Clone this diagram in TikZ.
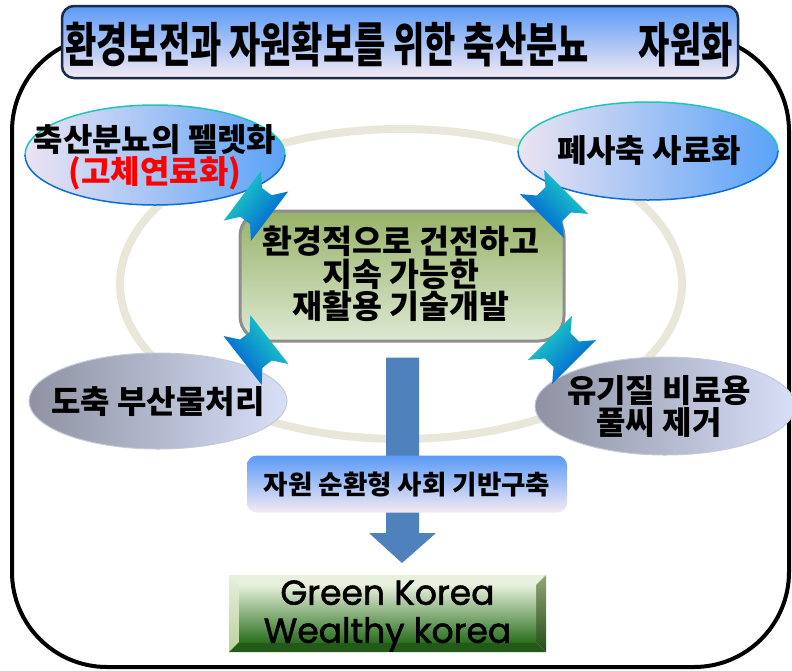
\documentclass[tikz,border=0pt]{standalone}
\usepackage{fontspec}
\usepackage{graphicx}
\usetikzlibrary{shapes.geometric,calc}
\newfontfamily\kr{Noto Sans CJK KR}
\newfontfamily\gk{Poppins}[FakeBold=1.6]
\definecolor{ringc}{HTML}{E9E6DA}
\definecolor{titleb}{HTML}{1C2B48}
\definecolor{skytop}{HTML}{5A9AF6}
\definecolor{skybot}{HTML}{F4EAF4}
\definecolor{elll}{HTML}{ECE4F2}
\definecolor{ellr}{HTML}{5AA2F8}
\definecolor{ellteal}{HTML}{1CC8B4}
\definecolor{ellblue}{HTML}{0B6ED4}
\definecolor{devtop}{HTML}{98B268}
\definecolor{devbot}{HTML}{DDE9D2}
\definecolor{devb}{HTML}{8E8E8E}
\definecolor{arcyan}{HTML}{1ED8C4}
\definecolor{armid}{HTML}{20B4E2}
\definecolor{arblue}{HTML}{0055D5}
\definecolor{barc}{HTML}{4F81BD}
\definecolor{grayl}{HTML}{8E92A2}
\definecolor{graym}{HTML}{C4CBE8}
\definecolor{grayr}{HTML}{D8DFF8}
\definecolor{grayb}{HTML}{C4CAD8}
\definecolor{gtop}{HTML}{E6F0DC}
\definecolor{gmid}{HTML}{A2BC72}
\definecolor{gbot}{HTML}{2C7020}
% double block arrow: centre name, axis angle (y down), shading angle
\newcommand{\spoolarrow}[3]{%
  \shade[top color=arcyan, middle color=armid, bottom color=arblue, shading angle=#3]
    ($(#1)+(#2:-17)+({#2+90}:31)$) -- ($(#1)+(#2:-6)+({#2+90}:18)$) --
    ($(#1)+(#2:6)+({#2+90}:18)$) -- ($(#1)+(#2:17)+({#2+90}:31)$) --
    ($(#1)+(#2:17)+({#2+90}:-31)$) -- ($(#1)+(#2:6)+({#2+90}:-18)$) --
    ($(#1)+(#2:-6)+({#2+90}:-18)$) -- ($(#1)+(#2:-17)+({#2+90}:-31)$) -- cycle;}
\begin{document}
\begin{tikzpicture}[x=1pt,y=-1pt,
  krb/.style={font=\kr\bfseries\fontsize{32}{32}\selectfont, align=center, inner sep=0pt},
  blueell/.style={ellipse, inner sep=0pt, left color=elll, right color=ellr},
  grayell/.style={ellipse, inner sep=0pt, left color=grayl, middle color=graym, right color=grayr, draw=grayb, line width=1pt},
  skybox/.style={top color=skytop, bottom color=skybot, inner sep=0pt}
]
\useasboundingbox (0,0) rectangle (792,670);

% outer frame
\draw[line width=4pt, rounded corners=95pt] (12,36) rectangle (789,667);

% ring
\draw[ringc, line width=8pt] (401,284) ellipse [x radius=281, y radius=155];

% top-left ellipse
\node[blueell, minimum width=260pt, minimum height=100pt] (pellet) at (155,155) {};
\begin{scope}\clip (0,0) rectangle (792,155);
\draw[ellteal, line width=1.5pt] (pellet.center) ellipse [x radius=130, y radius=50];
\end{scope}
\begin{scope}\clip (0,155) rectangle (792,670);
\draw[ellblue, line width=1.5pt] (pellet.center) ellipse [x radius=130, y radius=50];
\end{scope}
\node[krb] (pellettext) at (155,157) {축산분뇨의 펠렛화\\\textcolor{red}{(고체연료화)}};

% top-right ellipse
\node[blueell, minimum width=260pt, minimum height=98pt] (feed) at (648,151) {};
\begin{scope}\clip (0,0) rectangle (792,151);
\draw[ellteal, line width=1.5pt] (feed.center) ellipse [x radius=130, y radius=49];
\end{scope}
\begin{scope}\clip (0,151) rectangle (792,670);
\draw[ellblue, line width=1.5pt] (feed.center) ellipse [x radius=130, y radius=49];
\end{scope}
\node[krb] (feedtext) at (649,151) {폐사축 사료화};

% bottom ellipses
\node[grayell, minimum width=258pt, minimum height=96pt] (slaughter) at (158,401) {};
\node[krb] (slaughtertext) at (158,402) {도축 부산물처리};
\node[grayell, minimum width=260pt, minimum height=98pt] (organic) at (665,406) {};
\node[krb] (organictext) at (659,406) {유기질 비료용\\풀씨 제거};

% center box
\node[rounded corners=25pt, minimum width=324pt, minimum height=130pt, draw=devb, line width=3pt, top color=devtop, bottom color=devbot] (dev) at (402,276) {};
\node[krb, font=\kr\bfseries\fontsize{32.5}{32.5}\selectfont] (devtext) at (401,274) {환경적으로 건전하고\\지속 가능한\\재활용 기술개발};

% double arrows between the ellipses and the centre box
\coordinate (aTL) at (256,206);
\coordinate (aTR) at (554,204);
\coordinate (aBL) at (256,350);
\coordinate (aBR) at (562,350);
\spoolarrow{aTL}{37}{53}
\spoolarrow{aTR}{135}{-45}
\spoolarrow{aBL}{142}{-52}
\spoolarrow{aBR}{45}{45}

% green box
\coordinate (g1) at (229,575);
\coordinate (g2) at (546,575);
\coordinate (g3) at (546,652);
\coordinate (g4) at (229,652);
\coordinate (h1) at (239,585);
\coordinate (h2) at (536,585);
\coordinate (h3) at (536,642);
\coordinate (h4) at (239,642);
\fill[gtop] (g1) -- (g2) -- (h2) -- (h1) -- cycle;
\shade[top color=gtop, bottom color=gmid!70!white] (g1) -- (h1) -- (h4) -- (g4) -- cycle;
\shade[top color=gmid!60!gray, bottom color=gbot!70!black] (g2) -- (g3) -- (h3) -- (h2) -- cycle;
\fill[gbot!80!black] (g4) -- (h4) -- (h3) -- (g3) -- cycle;
\shade[top color=gtop, middle color=gmid, bottom color=gbot] (h1) rectangle (h3);
\node[font=\gk\fontsize{34.5}{38}\selectfont, align=center, inner sep=0pt] (green) at (387.5,616) {Green Korea\\Wealthy korea};

% vertical arrow
\coordinate (vtip) at ($(dev.south |- g1)+(0,-12)$);
\fill[barc] ($(dev.south)+(-16,15)$) -- ($(dev.south)+(17,15)$) -- ($(vtip)+(17,-30)$) -- ($(vtip)+(34,-30)$) -- (vtip) -- ($(vtip)+(-33,-30)$) -- ($(vtip)+(-16,-30)$) -- cycle;

% base box
\node[skybox, rounded corners=10pt, minimum width=320pt, minimum height=57pt, font=\kr\bfseries\fontsize{26.5}{28}\selectfont] (base) at (407,484) {자원 순환형 사회 기반구축};

% title
\node[skybox, rounded corners=12pt, draw=titleb, line width=2.5pt, minimum width=676pt, minimum height=72pt] (title) at (400,42) {};
\node[inner sep=0pt] (titletext) at (399,45) {\scalebox{1}[1.4]{\kr\bfseries\fontsize{34}{36}\selectfont 환경보전과 자원확보를 위한 축산분뇨\hspace{50pt}자원화}};
\end{tikzpicture}
\end{document}
